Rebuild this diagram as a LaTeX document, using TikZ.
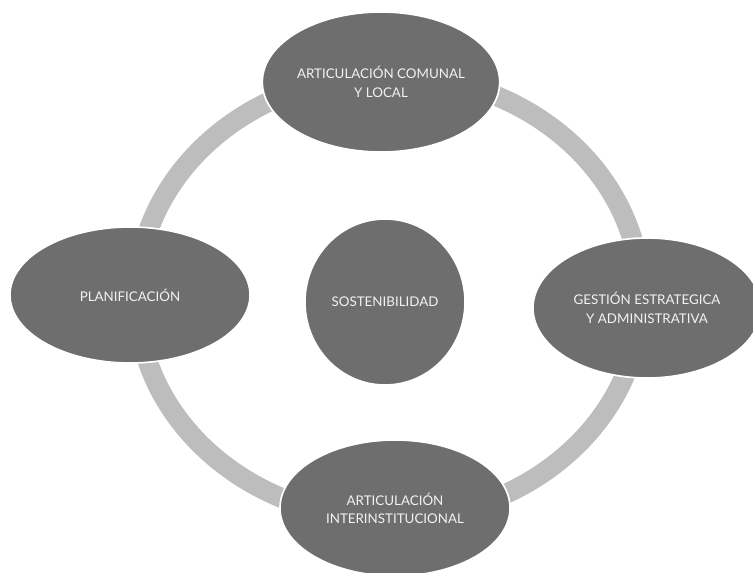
\documentclass[tikz,border=0pt]{standalone}
\usepackage{fontspec}
\setmainfont{Lato}
\usepackage{xcolor}
\usepackage{tikz}
\usetikzlibrary{shapes.geometric}

\definecolor{fondo}{HTML}{6E6E6E}
\definecolor{aro}{HTML}{BDBDBD}
\definecolor{letra}{HTML}{F2F2F2}

\begin{document}
\begin{tikzpicture}[x=0.025cm, y=-0.025cm,
    eje/.style={ellipse, fill=fondo, draw=white, line width=1.2pt,
        inner sep=0pt, outer sep=0pt, text=letra, align=center,
        font=\fontsize{9.5}{13}\selectfont}]
    \useasboundingbox (0,0) rectangle (753,572);

    % Ring
    \draw[aro, line width=0.5cm] (389,297) ellipse [x radius=6.3cm, y radius=5.55cm];

    % Ellipses
    \node[eje, minimum width=5.6cm, minimum height=3.5cm] (comunal) at (381,82)
        {ARTICULACIÓN COMUNAL\\Y LOCAL};
    \node[eje, minimum width=6.0cm, minimum height=3.4cm] (planif) at (130,295)
        {PLANIFICACIÓN};
    \node[eje, minimum width=4.0cm, minimum height=4.15cm] (sosten) at (385,302)
        {SOSTENIBILIDAD};
    \node[eje, minimum width=5.7cm, minimum height=3.5cm] (gestion) at (647,308)
        {GESTIÓN ESTRATEGICA\\Y ADMINISTRATIVA};
    \node[eje, minimum width=5.75cm, minimum height=3.4cm] (interinst) at (395,508)
        {ARTICULACIÓN\\INTERINSTITUCIONAL};
\end{tikzpicture}
\end{document}
